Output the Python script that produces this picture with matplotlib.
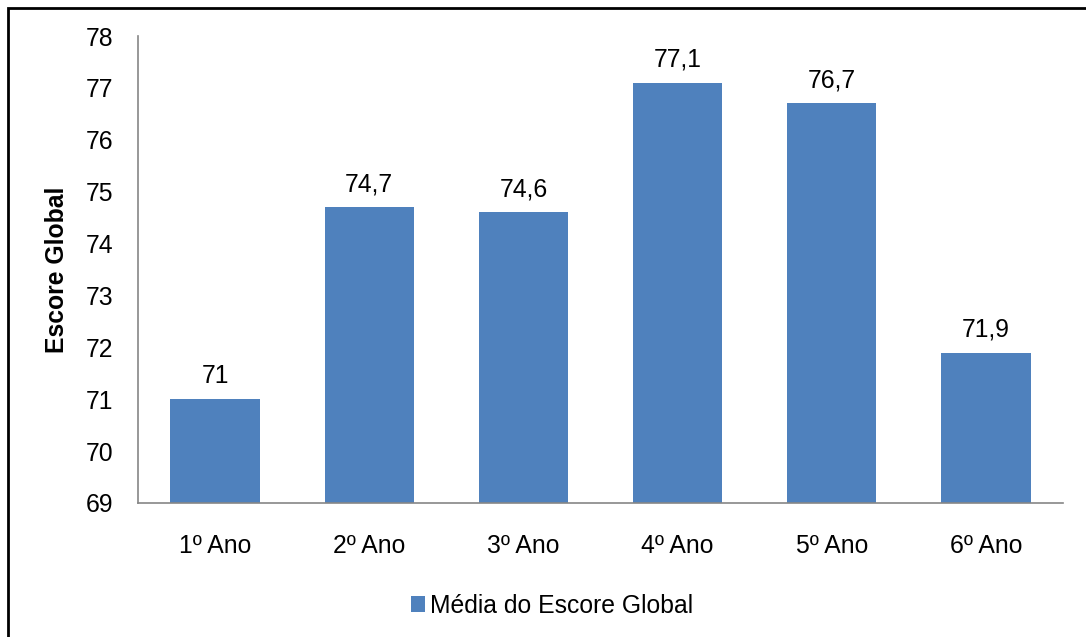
import matplotlib.pyplot as plt
from matplotlib.patches import Rectangle

plt.rcParams['font.family'] = ['Liberation Sans', 'DejaVu Sans']

# Mean global score by year
anos = ["1º Ano", "2º Ano", "3º Ano", "4º Ano", "5º Ano", "6º Ano"]
media = [71.0, 74.7, 74.6, 77.1, 76.7, 71.9]
rotulos = ["71", "74,7", "74,6", "77,1", "76,7", "71,9"]

W, H = 1086, 637
fs = 17.8
fig = plt.figure(figsize=(W / 100, H / 100), dpi=100)
ax = fig.add_axes([138 / W, 1 - 503 / H, (1063 - 138) / W, (503 - 36) / H])

cor = "#4F81BD"
x = range(len(anos))
bars = ax.bar(x, media, width=0.58, color=cor, bottom=0, label="Média do Escore Global")

for b, txt in zip(bars, rotulos):
    ax.annotate(txt, (b.get_x() + b.get_width() / 2, b.get_height()),
                xytext=(0, 8), textcoords="offset points",
                ha="center", va="bottom", fontsize=fs)

ax.set_ylim(69, 78)
ax.set_xlim(-0.5, len(anos) - 0.5)
ax.set_yticks(range(69, 79))
ax.set_xticks(list(x))
ax.set_xticklabels(anos)
ax.tick_params(axis="both", length=0, labelsize=fs)
ax.tick_params(axis="y", pad=18)
ax.tick_params(axis="x", pad=22)

for s in ["top", "right"]:
    ax.spines[s].set_visible(False)
for s in ["left", "bottom"]:
    ax.spines[s].set_color("#868686")
    ax.spines[s].set_linewidth(1.2)

ax.set_ylabel("Escore Global", fontsize=fs, fontweight="bold", labelpad=12)

fig.legend(handles=[bars], labels=["Média do Escore Global"], loc="center",
           bbox_to_anchor=(0.5 + 9 / W, 1 - 606 / H), frameon=False, fontsize=fs,
           handlelength=0.6, handleheight=0.6, handletextpad=0.2)

# outer chart frame
fig.patches.append(Rectangle((8 / W, -0.1), 1.2, 1.1 - 8 / H,
                             transform=fig.transFigure, fill=False,
                             edgecolor="black", linewidth=2, clip_on=False))

fig.savefig("out.png", dpi=100)
